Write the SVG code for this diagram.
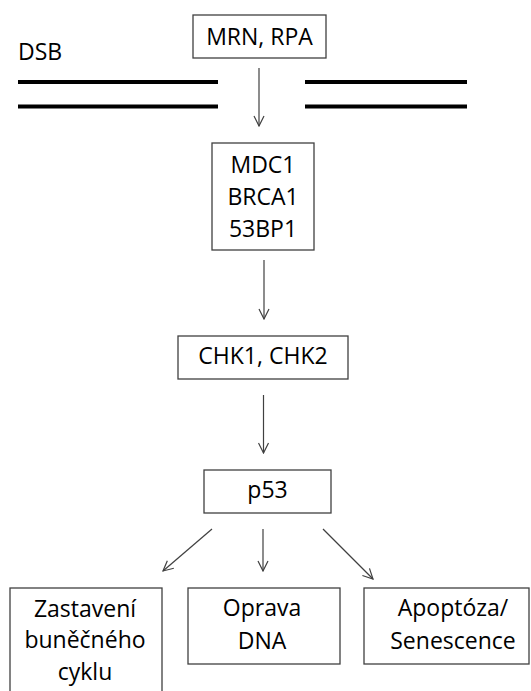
<svg xmlns="http://www.w3.org/2000/svg" width="531" height="691" viewBox="0 0 531 691">
<defs>
<marker id="ah" viewBox="0 0 12 12" refX="11" refY="6" markerWidth="12" markerHeight="12" markerUnits="userSpaceOnUse" orient="auto">
<path d="M1,1 L11,6 L1,11" fill="none" stroke="#404040" stroke-width="1.2"/>
</marker>
<style>
.box{fill:#fff;stroke:#404040;stroke-width:1.3}
.t{font-family:"Open Sans","Liberation Sans",sans-serif;font-size:23px;fill:#000;text-anchor:middle}
.c{stroke:#404040;stroke-width:1.2;fill:none;marker-end:url(#ah)}
.dna{stroke:#000;stroke-width:4}
</style>
</defs>
<rect width="531" height="691" fill="#fff"/>
<g id="dsb">
<text x="18" y="60" class="t" style="text-anchor:start">DSB</text>
<line class="dna" x1="18" y1="82" x2="218" y2="82"/>
<line class="dna" x1="18" y1="106.5" x2="218" y2="106.5"/>
<line class="dna" x1="305" y1="82" x2="467" y2="82"/>
<line class="dna" x1="305" y1="106.5" x2="467" y2="106.5"/>
</g>
<g id="mrn">
<rect class="box" x="193" y="15" width="133" height="43"/>
<text class="t" x="259.5" y="45">MRN, RPA</text>
</g>
<g id="mdc1">
<rect class="box" x="212" y="143" width="102" height="107"/>
<text class="t" x="263" y="173">MDC1</text>
<text class="t" x="263" y="205">BRCA1</text>
<text class="t" x="263" y="237">53BP1</text>
</g>
<g id="chk">
<rect class="box" x="178" y="336" width="170" height="43"/>
<text class="t" x="263" y="364">CHK1, CHK2</text>
</g>
<g id="p53">
<rect class="box" x="204" y="470" width="127" height="43"/>
<text class="t" x="267.5" y="498">p53</text>
</g>
<g id="zastaveni">
<rect class="box" x="10" y="588" width="152" height="110"/>
<text class="t" x="85" y="617">Zastavení</text>
<text class="t" x="85" y="648">buněčného</text>
<text class="t" x="85" y="680">cyklu</text>
</g>
<g id="oprava">
<rect class="box" x="188" y="588" width="152" height="76"/>
<text class="t" x="262" y="616">Oprava</text>
<text class="t" x="262" y="649">DNA</text>
</g>
<g id="apoptoza">
<rect class="box" x="364" y="588" width="165" height="76"/>
<text class="t" x="453" y="616">Apoptóza/</text>
<text class="t" x="453" y="649">Senescence</text>
</g>
<g id="connectors">
<line class="c" x1="259" y1="68" x2="259" y2="126"/>
<line class="c" x1="264" y1="260" x2="264" y2="319"/>
<line class="c" x1="263.5" y1="395" x2="263.5" y2="453"/>
<line class="c" x1="212" y1="529" x2="163" y2="571"/>
<line class="c" x1="263" y1="529" x2="263" y2="571"/>
<line class="c" x1="323" y1="529" x2="373" y2="579"/>
</g>
</svg>
